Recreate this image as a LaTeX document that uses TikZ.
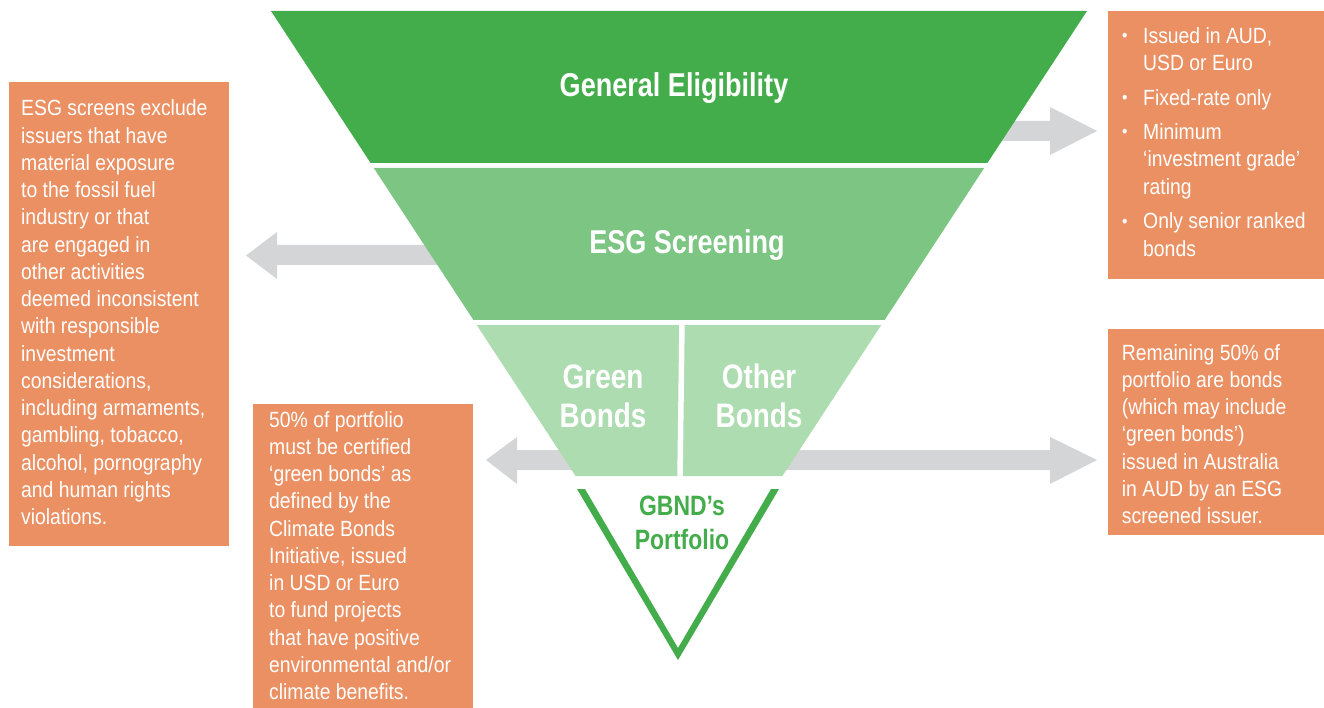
\documentclass[tikz,border=0pt]{standalone}
\usepackage{fontspec}
\usepackage{graphicx}
\setmainfont{Liberation Sans}[FakeStretch=0.88]
\newfontfamily\headfont{Liberation Sans}[FakeStretch=0.82]
\definecolor{gdark}{HTML}{44AD4B}
\definecolor{gmid}{HTML}{7DC582}
\definecolor{glight}{HTML}{AEDCB1}
\definecolor{obox}{HTML}{EB9063}
\definecolor{agray}{HTML}{D4D5D7}
\newcommand{\btext}[2]{\parbox[t]{#1}{\raggedright\fontsize{22}{27.25}\selectfont #2}}
\newcommand{\bul}{\makebox[22pt][l]{\hspace*{1pt}\raisebox{1.5pt}{\scalebox{0.8}{\textbullet}}}}
\newcommand{\ind}{\hspace*{22pt}}
\begin{document}
\begin{tikzpicture}[x=1pt,y=-1pt,
  orangebox/.style={fill=obox, draw=none, inner sep=0pt, anchor=north west},
  boxtext/.style={text=white, inner sep=0pt, anchor=base west},
  headtext/.style={text=white, inner sep=0pt, anchor=base, font=\headfont\bfseries\fontsize{33}{38}\selectfont},
  bandtext/.style={text=white, inner sep=0pt, anchor=base, font=\headfont\bfseries\fontsize{34}{39}\selectfont},
  porttext/.style={text=gdark, inner sep=0pt, anchor=base, font=\headfont\bfseries\fontsize{28}{34}\selectfont},
  grayarrow/.style={fill=agray, draw=none}
]
\useasboundingbox (0,0) rectangle (1324,708);

% gray arrows (behind funnel)
\fill[grayarrow] (990,121) -- (1050,121) -- (1050,107) -- (1097,131) -- (1050,155) -- (1050,141) -- (990,141) -- cycle;
\fill[grayarrow] (450,245) -- (277,245) -- (277,232) -- (246,255.5) -- (277,279) -- (277,265) -- (450,265) -- cycle;
\fill[grayarrow] (590,450) -- (517,450) -- (517,437) -- (486,460) -- (517,484) -- (517,470) -- (590,470) -- cycle;
\fill[grayarrow] (770,450) -- (1050,450) -- (1050,437) -- (1097,460) -- (1050,484) -- (1050,470) -- (770,470) -- cycle;

% funnel bands
\fill[gdark] (271,11) -- (1087,11) -- (987.4,163) -- (370.6,163) -- cycle;
\fill[gmid] (373.8,168) -- (984.2,168) -- (884.6,320) -- (473.4,320) -- cycle;
\fill[glight] (476.7,325) -- (881.3,325) -- (782.4,476) -- (575.6,476) -- cycle;
\draw[white, line width=5.5pt] (682,323) -- (680,478);

% portfolio V
\fill[gdark] (577,489) -- (678,660) -- (779,489) -- (771,489) -- (678,648) -- (585,489) -- cycle;

% funnel labels
\node[headtext] (ge) at (674,97) {General Eligibility};
\node[headtext] (esg) at (687,254) {ESG Screening};
\node[bandtext] (gb) at (603,388) {\parbox[t]{130pt}{\centering Green\\Bonds}};
\node[bandtext] (ob) at (759,388) {\parbox[t]{130pt}{\centering Other\\Bonds}};
\node[porttext] (gp) at (682,515) {\parbox[t]{130pt}{\centering GBND’s\\Portfolio}};

% orange boxes
\node[orangebox, minimum width=220pt, minimum height=464pt] (lbox) at (9,82) {};
\node[orangebox, minimum width=220pt, minimum height=304pt] (mbox) at (253,404) {};
\node[orangebox, minimum width=216pt, minimum height=268pt] (trbox) at (1108,11) {};
\node[orangebox, minimum width=216pt, minimum height=206pt] (brbox) at (1108,329) {};

\node[boxtext] (ltext) at ([xshift=12pt,yshift=-34pt]lbox.north west) {\btext{210pt}{ESG screens exclude\\
issuers that have\\
material exposure\\
to the fossil fuel\\
industry or that\\
are engaged in\\
other activities\\
deemed inconsistent\\
with responsible\\
investment\\
considerations,\\
including armaments,\\
gambling, tobacco,\\
alcohol, pornography\\
and human rights\\
violations.}};

\node[boxtext] (mtext) at ([xshift=16pt,yshift=-23pt]mbox.north west) {\btext{205pt}{50\% of portfolio\\
must be certified\\
‘green bonds’ as\\
defined by the\\
Climate Bonds\\
Initiative, issued\\
in USD or Euro\\
to fund projects\\
that have positive\\
environmental and/or\\
climate benefits.}};

\node[boxtext] (trtext) at ([xshift=13pt,yshift=-32.3pt]trbox.north west) {\parbox[t]{200pt}{\raggedright\fontsize{22}{27.6}\selectfont
\bul Issued in AUD,\\
\ind USD or Euro\\[6.6pt]
\bul Fixed-rate only\\[6.6pt]
\bul Minimum\\
\ind ‘investment grade’\\
\ind rating\\[6.6pt]
\bul Only senior ranked\\
\ind bonds}};

\node[boxtext] (brtext) at ([xshift=13.7pt,yshift=-31pt]brbox.north west) {\btext{205pt}{Remaining 50\% of\\
portfolio are bonds\\
(which may include\\
‘green bonds’)\\
issued in Australia\\
in AUD by an ESG\\
screened issuer.}};
\end{tikzpicture}
\end{document}
